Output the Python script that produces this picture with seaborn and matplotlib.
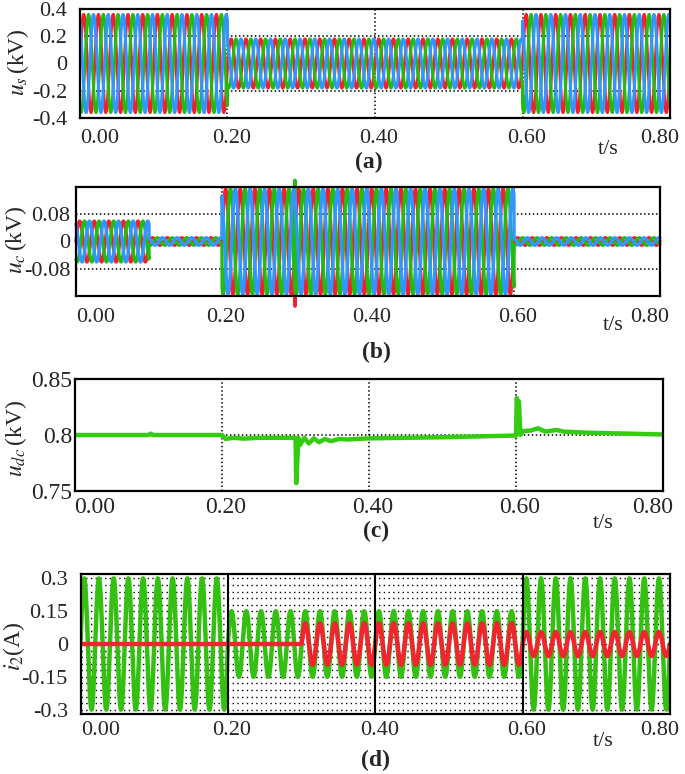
import matplotlib
matplotlib.use('Agg')
import numpy as np
import pandas as pd
import matplotlib.pyplot as plt
import matplotlib.transforms as mtrans
from matplotlib.ticker import FixedLocator, FuncFormatter, MultipleLocator
import seaborn as sns

sns.set_style('white')
plt.rcParams['font.family'] = ['Liberation Serif', 'DejaVu Serif']
plt.rcParams['mathtext.fontset'] = 'stix'
plt.rcParams['axes.unicode_minus'] = False

# ---- values ----
F_HZ = 50
T_END = 0.8
X_TICKS = [0.0, 0.2, 0.4, 0.6, 0.8]

phase_names = ['red', 'green', 'blue']
phase_shift_deg = [0, -120, 120]
phase_colors = {'red': '#f0202c', 'green': '#22bb11', 'blue': '#3395ff'}

# (a) source voltage: amplitude per segment
us_breaks = [0.0, 0.2, 0.6]
us_amp = [0.36, 0.18, 0.36]

# (b) compensator voltage
uc_breaks = [0.0, 0.1, 0.2, 0.6]
uc_amp = [0.06, 0.011, 0.155, 0.011]
uc_spike_t = 0.3
uc_spike = {'red': -0.19, 'green': 0.18}

# (c) dc-link voltage
udc_t = [0.0, 0.1, 0.103, 0.106, 0.2, 0.205, 0.215, 0.23, 0.25, 0.3,
         0.301, 0.304, 0.306, 0.312, 0.318, 0.325, 0.332, 0.34, 0.348,
         0.36, 0.37, 0.4, 0.5, 0.6, 0.601, 0.603, 0.604, 0.606, 0.61,
         0.62, 0.63, 0.64, 0.655, 0.665, 0.7, 0.8]
udc_v = [0.8, 0.8, 0.8012, 0.8, 0.8, 0.7965, 0.7975, 0.7968, 0.7975, 0.7975,
         0.757, 0.7975, 0.791, 0.7975, 0.7925, 0.797, 0.7935, 0.7965, 0.7945,
         0.7965, 0.796, 0.797, 0.798, 0.7995, 0.833, 0.826, 0.83, 0.8, 0.8035,
         0.804, 0.806, 0.803, 0.8045, 0.803, 0.802, 0.8005]

# (d) currents
i2_green_breaks = [0.0, 0.2, 0.6]
i2_green_amp = [0.3, 0.15, 0.3]
i2_red_breaks = [0.0, 0.3, 0.6]
i2_red_amp = [0.0, 0.095, 0.055]

t = np.linspace(0, T_END, 16001)


def seg_amp(breaks, amps):
    idx = np.clip(np.searchsorted(breaks, t, side='right') - 1, 0, len(amps) - 1)
    return np.asarray(amps)[idx]


def three_phase(breaks, amps, spike_t=None, spikes=None):
    amp = seg_amp(breaks, amps)
    frames = []
    for name, sh in zip(phase_names, phase_shift_deg):
        v = amp * np.sin(2 * np.pi * F_HZ * t + np.deg2rad(sh))
        if spikes and name in spikes:
            v[np.argmin(np.abs(t - spike_t))] = spikes[name]
        frames.append(pd.DataFrame({'t': t, 'v': v, 'phase': name}))
    return pd.concat(frames, ignore_index=True)


df_us = three_phase(us_breaks, us_amp)
df_uc = three_phase(uc_breaks, uc_amp, uc_spike_t, uc_spike)
i2_green = seg_amp(i2_green_breaks, i2_green_amp) * np.sin(2 * np.pi * F_HZ * t)
i2_red = seg_amp(i2_red_breaks, i2_red_amp) * np.sin(2 * np.pi * F_HZ * t)
df_i2 = pd.concat([pd.DataFrame({'t': t, 'v': i2_green, 'wave': 'green'}),
                   pd.DataFrame({'t': t, 'v': i2_red, 'wave': 'red'})],
                  ignore_index=True)

W, H = 685, 774
fig = plt.figure(figsize=(W / 100, H / 100), dpi=100)


def px_axes(left, top, right, bottom):
    return fig.add_axes([left / W, 1 - bottom / H, (right - left) / W, (bottom - top) / H])


def px_text(x, y, s, **kw):
    fig.text(x / W, 1 - y / H, s, ha='center', va='center', **kw)


DOT = (0, (1, 1.6))
fmt_g = FuncFormatter(lambda v, p: f'{v:g}')


def style_axes(ax, ylim, yticks, tick_fs, xpad, ypad):
    ax.set_xlim(0, T_END)
    ax.set_ylim(*ylim)
    ax.xaxis.set_major_locator(FixedLocator(X_TICKS))
    ax.xaxis.set_major_formatter(FuncFormatter(lambda v, p: f'{v:.2f}'))
    ax.yaxis.set_major_locator(FixedLocator(yticks))
    ax.yaxis.set_major_formatter(fmt_g)
    ax.tick_params(axis='both', which='both', length=0, labelsize=tick_fs)
    ax.tick_params(axis='x', pad=xpad)
    ax.tick_params(axis='y', pad=ypad)
    ax.set_xlabel('')
    ax.set_ylabel('')
    for s in ax.spines.values():
        s.set_color('black')
        s.set_linewidth(1.6)
    ax.set_axisbelow(True)
    dxs = [20, 4, 4, 4, -10]
    for lab, dx in zip(ax.get_xticklabels(), dxs):
        lab.set_transform(lab.get_transform() +
                          mtrans.ScaledTranslation(dx / 100, 0, fig.dpi_scale_trans))


# (a)
ax_a = px_axes(80, 9, 670, 118)
sns.lineplot(data=df_us, x='t', y='v', hue='phase', hue_order=phase_names,
             palette=phase_colors, estimator=None, sort=False, linewidth=2.2,
             legend=False, ax=ax_a)
style_axes(ax_a, (-0.4, 0.4), [-0.4, -0.2, 0, 0.2, 0.4], 16, 8, 9)
ax_a.grid(True, color='black', linestyle=DOT, linewidth=1.1)

# (b)
ax_b = px_axes(76, 187, 660, 296)
sns.lineplot(data=df_uc, x='t', y='v', hue='phase', hue_order=phase_names,
             palette=phase_colors, estimator=None, sort=False, linewidth=2.4,
             legend=False, ax=ax_b)
for ln in ax_b.lines:
    ln.set_clip_on(False)
style_axes(ax_b, (-0.16, 0.16), [-0.08, 0, 0.08], 16, 9, 4)
ax_b.grid(True, color='black', linestyle=DOT, linewidth=1.1)

# (c)
ax_c = px_axes(75, 379, 663, 491)
sns.lineplot(x=udc_t, y=udc_v, color='#33cc11', linewidth=3.2, estimator=None,
             sort=False, ax=ax_c)
style_axes(ax_c, (0.75, 0.85), [0.75, 0.8, 0.85], 17, 4, 2)
ax_c.grid(True, color='black', linestyle=DOT, linewidth=1.1)

# (d)
ax_d = px_axes(80.5, 574, 670, 714)
sns.lineplot(data=df_i2, x='t', y='v', hue='wave', hue_order=['green', 'red'],
             palette={'green': '#33c011', 'red': '#f22430'}, estimator=None,
             sort=False, linewidth=3.2, legend=False, ax=ax_d)
style_axes(ax_d, (-0.32, 0.32), [-0.3, -0.15, 0, 0.15, 0.3], 16, 5, 9)
ax_d.yaxis.set_minor_locator(MultipleLocator(0.03))
ax_d.grid(True, axis='y', which='both', color='black',
          linestyle=(0, (1, 2.4)), linewidth=1.0)
for xv in X_TICKS[1:-1]:
    ax_d.axvline(xv, color='black', linewidth=1.5, zorder=5)

# axis labels and captions
px_text(18, 62, r'$u_s\,$(kV)', fontsize=17, rotation=90)
px_text(16, 240, r'$u_c\,$(kV)', fontsize=17, rotation=90)
px_text(16, 439, r'$u_{dc}\,$(kV)', fontsize=17, rotation=90)
px_text(14, 646, r'$i_2$(A)', fontsize=17, rotation=90)

for (x, y) in [(608, 149), (613, 326), (603, 523), (603, 742)]:
    px_text(x, y, 't/s', fontsize=16)
for (x, y), s in zip([(369, 162), (376, 352), (376, 531), (375, 760)],
                     ['(a)', '(b)', '(c)', '(d)']):
    px_text(x, y, s, fontsize=17, fontweight='bold')

fig.savefig('out.png', dpi=100)
